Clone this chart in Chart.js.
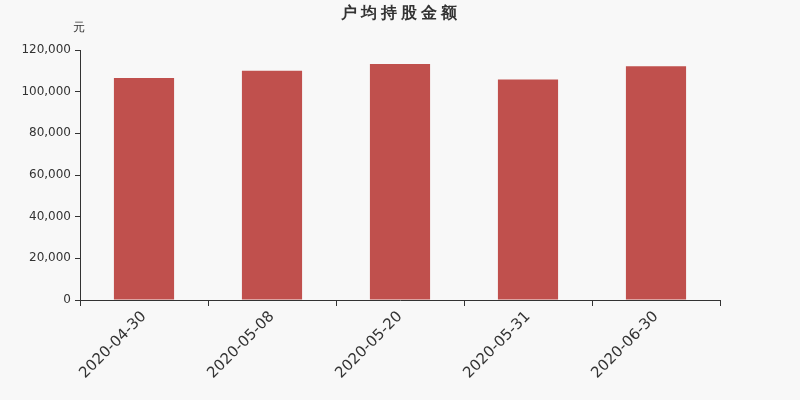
<!DOCTYPE html>
<html>
<head>
<meta charset="utf-8">
<script src="https://cdn.jsdelivr.net/npm/chart.js@4"></script>
<style>
    html, body { margin: 0; padding: 0; background: #f8f8f8; }
    #wrap { width: 800px; height: 400px; }
</style>
</head>
<body>
<div id="wrap"><canvas id="holdChart"></canvas></div>
<script>
const dates = ['2020-04-30', '2020-05-08', '2020-05-20', '2020-05-31', '2020-06-30'];
const avgHolding = [106600, 110000, 113300, 105900, 112200];
const yTicks = [0, 20000, 40000, 60000, 80000, 100000, 120000];

const chartTitle = '户均持股金额';
const unitLabel = '元';

// title and unit are drawn at fixed spots above the plot
const headerText = {
    id: 'headerText',
    afterDraw(chart) {
        const ctx = chart.ctx;
        ctx.save();
        ctx.fillStyle = '#333';
        ctx.textAlign = 'center';
        ctx.textBaseline = 'middle';
        ctx.font = 'bold 16px "DejaVu Sans", sans-serif';
        ctx.letterSpacing = '4px';
        ctx.fillText(chartTitle, 401, 14);
        ctx.letterSpacing = '0px';
        ctx.font = '12px "DejaVu Sans", sans-serif';
        ctx.fillText(unitLabel, 79, 28);
        ctx.restore();
    }
};

function initChart() {
    const ctx = document.getElementById('holdChart');

    new Chart(ctx, {
        type: 'bar',
        data: {
            labels: dates,
            datasets: [{
                label: chartTitle,
                data: avgHolding,
                backgroundColor: '#c0504d',
                borderWidth: 0,
                barPercentage: 0.47,
                categoryPercentage: 1
            }]
        },
        options: {
            responsive: true,
            maintainAspectRatio: false,
            animation: false,
            layout: { padding: { top: 50, right: 80, left: 0, bottom: 0 } },
            plugins: {
                legend: { display: false },
                tooltip: { enabled: false }
            },
            scales: {
                x: {
                    afterFit: scale => { scale.height = 100; },
                    border: { display: true, color: '#333' },
                    grid: { drawOnChartArea: false, tickLength: 6, color: '#333', offset: true },
                    ticks: {
                        color: '#333',
                        maxRotation: 45,
                        minRotation: 45,
                        padding: 2,
                        font: { family: '"DejaVu Sans", sans-serif', size: 15 }
                    }
                },
                y: {
                    min: 0,
                    max: 120000,
                    afterFit: scale => { scale.width = 80; },
                    afterBuildTicks: scale => { scale.ticks = yTicks.map(v => ({ value: v })); },
                    border: { display: true, color: '#333' },
                    grid: { drawOnChartArea: false, tickLength: 5, color: '#333' },
                    ticks: {
                        color: '#333',
                        padding: 4,
                        font: { family: '"DejaVu Sans", sans-serif', size: 12 },
                        callback: value => value.toLocaleString('en-US')
                    }
                }
            }
        },
        plugins: [headerText]
    });
}

document.addEventListener('DOMContentLoaded', () => {
    initChart();
});
</script>
</body>
</html>
